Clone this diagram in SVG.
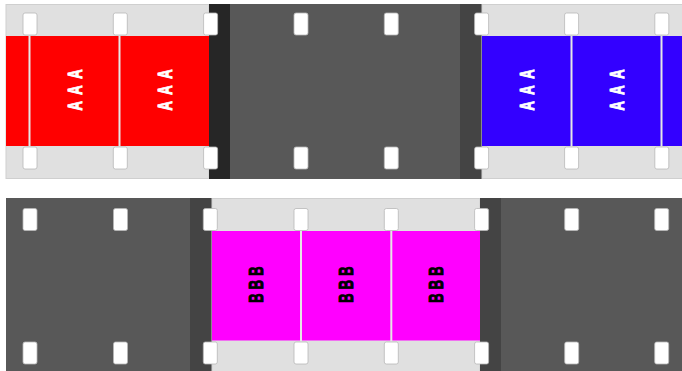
<svg xmlns="http://www.w3.org/2000/svg" width="682" height="371" viewBox="0 0 682 371">
<style>
.lg{fill:#e0e0e0;stroke:#cfcfcf;stroke-width:1}
.g{fill:#585858}
.d1{fill:#262626}
.d2{fill:#444444}
.hole{fill:#ffffff;stroke:#b8b8b8;stroke-width:0.8}
.div{stroke:#e6e6e6;stroke-width:2}
.ta{font-family:"Liberation Sans",Arial,sans-serif;font-weight:bold;font-size:20px;fill:#ffffff;stroke:#ffffff;stroke-width:1;letter-spacing:10px;text-anchor:middle}
.tb{font-family:"Liberation Sans",Arial,sans-serif;font-weight:bold;font-size:20px;fill:#000000;stroke:#000000;stroke-width:1;letter-spacing:6.3px;text-anchor:middle}
</style>
<defs>
<rect id="h" class="hole" x="-7" y="0" width="14" height="22" rx="2"/>
</defs>
<rect width="682" height="371" fill="#ffffff"/>

<g id="strip-top">
  <g id="frame-red">
    <rect class="lg" x="6" y="4.5" width="203" height="174"/>
    <rect x="6" y="36" width="203" height="110" fill="#ff0000"/>
    <line class="div" x1="29.5" y1="35" x2="29.5" y2="147"/>
    <line class="div" x1="119.5" y1="35" x2="119.5" y2="147"/>
    <text class="ta" transform="translate(74.5,90) rotate(-90) scale(0.65,1)" x="5" y="7.2">AAA</text>
    <text class="ta" transform="translate(164.5,90) rotate(-90) scale(0.65,1)" x="5" y="7.2">AAA</text>
  </g>
  <g id="frame-dark-top">
    <rect class="d1" x="209" y="4" width="21" height="175"/>
    <rect class="g" x="230" y="4" width="230" height="175"/>
    <rect class="d2" x="460" y="4" width="22" height="175"/>
  </g>
  <g id="frame-blue">
    <rect class="lg" x="482" y="4.5" width="201" height="174"/>
    <rect x="482" y="36" width="200" height="110" fill="#3300ff"/>
    <line class="div" x1="571.5" y1="35" x2="571.5" y2="147"/>
    <line class="div" x1="661.5" y1="35" x2="661.5" y2="147"/>
    <text class="ta" transform="translate(526.5,90) rotate(-90) scale(0.65,1)" x="5" y="7.2">AAA</text>
    <text class="ta" transform="translate(616.5,90) rotate(-90) scale(0.65,1)" x="5" y="7.2">AAA</text>
  </g>
  <g id="holes-top">
    <use href="#h" x="30" y="13"/><use href="#h" x="120.3" y="13"/><use href="#h" x="210.6" y="13"/><use href="#h" x="301" y="13"/>
    <use href="#h" x="391.3" y="13"/><use href="#h" x="481.6" y="13"/><use href="#h" x="571.6" y="13"/><use href="#h" x="661.8" y="13"/>
    <use href="#h" x="30" y="147"/><use href="#h" x="120.3" y="147"/><use href="#h" x="210.6" y="147"/><use href="#h" x="301" y="147"/>
    <use href="#h" x="391.3" y="147"/><use href="#h" x="481.6" y="147"/><use href="#h" x="571.6" y="147"/><use href="#h" x="661.8" y="147"/>
  </g>
</g>

<g id="strip-bottom">
  <g id="frame-dark-left">
    <rect class="g" x="6" y="198" width="184" height="173"/>
    <rect class="d2" x="190" y="198" width="22" height="173"/>
  </g>
  <g id="frame-magenta">
    <rect class="lg" x="212" y="198.5" width="268" height="173"/>
    <rect x="212" y="231" width="268" height="109.5" fill="#ff00ff"/>
    <line class="div" x1="301" y1="230" x2="301" y2="342"/>
    <line class="div" x1="391.3" y1="230" x2="391.3" y2="342"/>
    <text class="tb" transform="translate(256,284.5) rotate(-90) scale(0.65,1)" x="3.2" y="7.2">BBB</text>
    <text class="tb" transform="translate(346,284.5) rotate(-90) scale(0.65,1)" x="3.2" y="7.2">BBB</text>
    <text class="tb" transform="translate(436,284.5) rotate(-90) scale(0.65,1)" x="3.2" y="7.2">BBB</text>
  </g>
  <g id="frame-dark-right">
    <rect class="d2" x="480" y="198" width="21" height="173"/>
    <rect class="g" x="501" y="198" width="181" height="173"/>
  </g>
  <g id="holes-bottom">
    <use href="#h" x="30" y="208.5"/><use href="#h" x="120.5" y="208.5"/><use href="#h" x="210.3" y="208.5"/><use href="#h" x="301" y="208.5"/>
    <use href="#h" x="391.3" y="208.5"/><use href="#h" x="481.6" y="208.5"/><use href="#h" x="571.7" y="208.5"/><use href="#h" x="661.7" y="208.5"/>
    <use href="#h" x="30" y="342"/><use href="#h" x="120.5" y="342"/><use href="#h" x="210.3" y="342"/><use href="#h" x="301" y="342"/>
    <use href="#h" x="391.3" y="342"/><use href="#h" x="481.6" y="342"/><use href="#h" x="571.7" y="342"/><use href="#h" x="661.7" y="342"/>
  </g>
</g>
</svg>
